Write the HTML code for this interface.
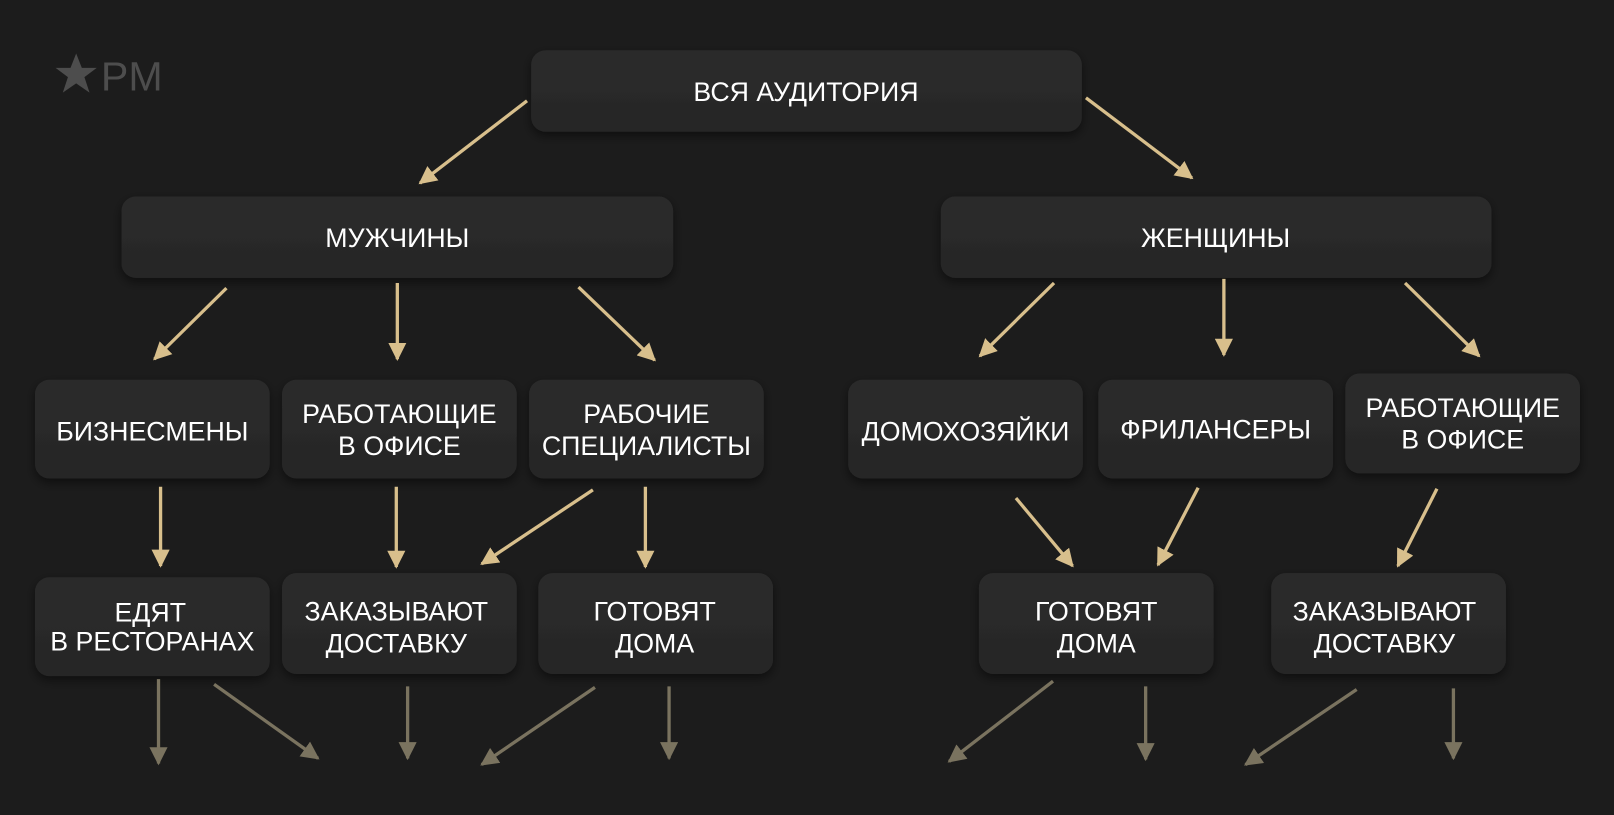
<!DOCTYPE html>
<html><head><meta charset="utf-8"><style>
html,body{margin:0;padding:0;background:#1c1c1c;}
svg{display:block;}
text{font-family:"Liberation Sans",Arial,sans-serif;fill:#fff;font-size:26px;text-anchor:middle;}
</style></head><body>
<svg width="1614" height="815" viewBox="0 0 1568 792" preserveAspectRatio="none" xmlns="http://www.w3.org/2000/svg">
<defs>
<linearGradient id="edge" x1="0" x2="1" y1="0" y2="0">
<stop offset="0" stop-color="#d8bf8c" stop-opacity="0.1"/>
<stop offset="0.5" stop-color="#d8bf8c" stop-opacity="1"/>
<stop offset="1" stop-color="#d8bf8c" stop-opacity="0.1"/>
</linearGradient>
<linearGradient id="fill" x1="0" x2="0" y1="0" y2="1">
<stop offset="0" stop-color="#2c2c2c"/><stop offset="1" stop-color="#262626"/>
</linearGradient>
<linearGradient id="floor" x1="0" x2="1">
<stop offset="0" stop-color="#555" stop-opacity="0"/><stop offset="0.5" stop-color="#555" stop-opacity="0.6"/><stop offset="1" stop-color="#555" stop-opacity="0"/>
</linearGradient>
<marker id="ah" viewBox="0 0 10 10" refX="9" refY="5" markerWidth="5.5" markerHeight="5.5" orient="auto" markerUnits="strokeWidth">
<path d="M0,0 L10,5 L0,10 z" fill="#d8bf8c"/></marker>
<marker id="ah2" viewBox="0 0 10 10" refX="9" refY="5" markerWidth="5.5" markerHeight="5.5" orient="auto" markerUnits="strokeWidth">
<path d="M0,0 L10,5 L0,10 z" fill="#7a735f"/></marker>
<filter id="sh" x="-10%" y="-20%" width="120%" height="150%"><feDropShadow dx="0" dy="4" stdDeviation="5" flood-color="#000" flood-opacity="0.5"/></filter>
</defs>
<rect width="1568" height="792" fill="#1c1c1c"/>
<path d="M74,52 L79.5,66 L94,66 L82,75 L87,90 L74,81 L61,90 L66,75 L54,66 L68.5,66 z" fill="#4d4d4d"/>
<text x="128" y="88" style="font-size:40px;fill:#4d4d4d">PM</text>

<g filter="url(#sh)">
<rect x="516" y="49" width="535" height="79" rx="14" fill="url(#fill)"/>
<rect x="118" y="191" width="536" height="79" rx="14" fill="url(#fill)"/>
<rect x="914" y="191" width="535" height="79" rx="14" fill="url(#fill)"/>
<rect x="34" y="369" width="228" height="96" rx="14" fill="url(#fill)"/>
<rect x="274" y="369" width="228" height="96" rx="14" fill="url(#fill)"/>
<rect x="514" y="369" width="228" height="96" rx="14" fill="url(#fill)"/>
<rect x="824" y="369" width="228" height="96" rx="14" fill="url(#fill)"/>
<rect x="1067" y="369" width="228" height="96" rx="14" fill="url(#fill)"/>
<rect x="1307" y="363" width="228" height="97" rx="14" fill="url(#fill)"/>
<rect x="34" y="561" width="228" height="96" rx="14" fill="url(#fill)"/>
<rect x="274" y="557" width="228" height="98" rx="14" fill="url(#fill)"/>
<rect x="523" y="557" width="228" height="98" rx="14" fill="url(#fill)"/>
<rect x="951" y="557" width="228" height="98" rx="14" fill="url(#fill)"/>
<rect x="1235" y="557" width="228" height="98" rx="14" fill="url(#fill)"/>
</g>
<g stroke="url(#edge)" stroke-width="1.6">
<line x1="530" y1="49.5" x2="1037" y2="49.5"/><line x1="530" y1="127.5" x2="1037" y2="127.5"/>
<line x1="132" y1="191.5" x2="640" y2="191.5"/><line x1="132" y1="269.5" x2="640" y2="269.5"/>
<line x1="928" y1="191.5" x2="1435" y2="191.5"/><line x1="928" y1="269.5" x2="1435" y2="269.5"/>
<line x1="48" y1="369.5" x2="248" y2="369.5"/><line x1="48" y1="464.5" x2="248" y2="464.5"/>
<line x1="288" y1="369.5" x2="488" y2="369.5"/><line x1="288" y1="464.5" x2="488" y2="464.5"/>
<line x1="528" y1="369.5" x2="728" y2="369.5"/><line x1="528" y1="464.5" x2="728" y2="464.5"/>
<line x1="838" y1="369.5" x2="1038" y2="369.5"/><line x1="838" y1="464.5" x2="1038" y2="464.5"/>
<line x1="1081" y1="369.5" x2="1281" y2="369.5"/><line x1="1081" y1="464.5" x2="1281" y2="464.5"/>
<line x1="1321" y1="363.5" x2="1521" y2="363.5"/><line x1="1321" y1="459.5" x2="1521" y2="459.5"/>
<line x1="48" y1="561.5" x2="248" y2="561.5"/><line x1="48" y1="656.5" x2="248" y2="656.5"/>
<line x1="288" y1="557.5" x2="488" y2="557.5"/><line x1="288" y1="654.5" x2="488" y2="654.5"/>
<line x1="537" y1="557.5" x2="737" y2="557.5"/><line x1="537" y1="654.5" x2="737" y2="654.5"/>
<line x1="965" y1="557.5" x2="1165" y2="557.5"/><line x1="965" y1="654.5" x2="1165" y2="654.5"/>
<line x1="1249" y1="557.5" x2="1449" y2="557.5"/><line x1="1249" y1="654.5" x2="1449" y2="654.5"/>
</g>

<text x="783" y="98">ВСЯ АУДИТОРИЯ</text>
<text x="386" y="240">МУЖЧИНЫ</text>
<text x="1181" y="240">ЖЕНЩИНЫ</text>
<text x="148" y="428">БИЗНЕСМЕНЫ</text>
<text x="388" y="411">РАБОТАЮЩИЕ</text><text x="388" y="442">В ОФИСЕ</text>
<text x="628" y="411">РАБОЧИЕ</text><text x="628" y="442">СПЕЦИАЛИСТЫ</text>
<text x="938" y="428">ДОМОХОЗЯЙКИ</text>
<text x="1181" y="426">ФРИЛАНСЕРЫ</text>
<text x="1421" y="405">РАБОТАЮЩИЕ</text><text x="1421" y="436">В ОФИСЕ</text>
<text x="146" y="604">ЕДЯТ</text><text x="148" y="632">В РЕСТОРАНАХ</text>
<text x="385" y="603">ЗАКАЗЫВАЮТ</text><text x="385" y="634">ДОСТАВКУ</text>
<text x="636" y="603">ГОТОВЯТ</text><text x="636" y="634">ДОМА</text>
<text x="1065" y="603">ГОТОВЯТ</text><text x="1065" y="634">ДОМА</text>
<text x="1345" y="603">ЗАКАЗЫВАЮТ</text><text x="1345" y="634">ДОСТАВКУ</text>

<g stroke="#d8bf8c" stroke-width="3.2" marker-end="url(#ah)">
<line x1="512" y1="98" x2="408" y2="178"/>
<line x1="1055" y1="95" x2="1158" y2="173"/>
<line x1="220" y1="280" x2="150" y2="349"/>
<line x1="386" y1="275" x2="386" y2="349"/>
<line x1="562" y1="279" x2="636" y2="350"/>
<line x1="1024" y1="275" x2="952" y2="346"/>
<line x1="1189" y1="271" x2="1189" y2="345"/>
<line x1="1365" y1="275" x2="1437" y2="346"/>
<line x1="156" y1="473" x2="156" y2="550"/>
<line x1="385" y1="473" x2="385" y2="551"/>
<line x1="576" y1="476" x2="468" y2="548"/>
<line x1="627" y1="473" x2="627" y2="551"/>
<line x1="987" y1="484" x2="1042" y2="550"/>
<line x1="1164" y1="474" x2="1125" y2="549"/>
<line x1="1396" y1="475" x2="1358" y2="550"/>
</g>
<g stroke="#7a735f" stroke-width="3.2" marker-end="url(#ah2)">
<line x1="154" y1="660" x2="154" y2="742"/>
<line x1="208" y1="665" x2="309" y2="737"/>
<line x1="396" y1="667" x2="396" y2="737"/>
<line x1="578" y1="668" x2="468" y2="743"/>
<line x1="650" y1="667" x2="650" y2="737"/>
<line x1="1023" y1="662" x2="922" y2="740"/>
<line x1="1113" y1="667" x2="1113" y2="738"/>
<line x1="1318" y1="670" x2="1210" y2="743"/>
<line x1="1412" y1="669" x2="1412" y2="737"/>
</g>
<g stroke="url(#floor)" stroke-width="1">
<line x1="60" y1="752" x2="240" y2="752"/>
<line x1="320" y1="752" x2="500" y2="752"/>
<line x1="580" y1="752" x2="760" y2="752"/>
<line x1="840" y1="752" x2="1020" y2="752"/>
<line x1="1090" y1="752" x2="1290" y2="752"/>
<line x1="1340" y1="752" x2="1540" y2="752"/>
</g>
</svg>
</body></html>
